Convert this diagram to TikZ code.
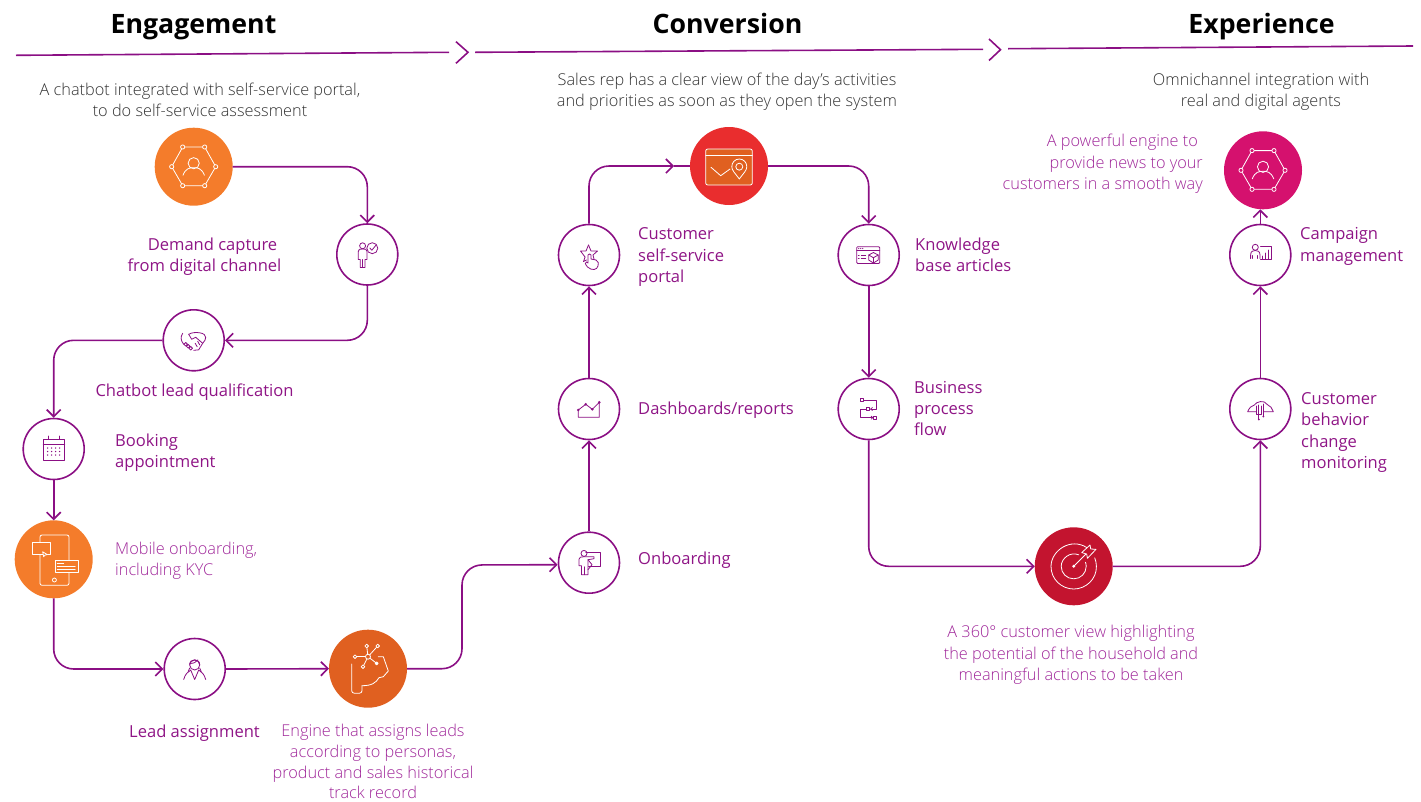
\documentclass[tikz,border=0pt]{standalone}
\usepackage{fontspec}
\setmainfont{Open Sans}
\newfontfamily\lightf{Open Sans Light}
\usetikzlibrary{arrows.meta}
\definecolor{pc}{HTML}{8B0F84}
\definecolor{labc}{HTML}{8F1586}
\definecolor{labl}{HTML}{A0289A}
\definecolor{subc}{HTML}{333333}
\definecolor{og}{HTML}{F47C2B}
\definecolor{ogd}{HTML}{E06020}
\definecolor{redc}{HTML}{E92D2E}
\definecolor{crim}{HTML}{C3142F}
\definecolor{mag}{HTML}{D5116E}
\tikzset{
  ringnode/.style={circle,draw=pc,line width=1.6pt,minimum size=61pt,inner sep=0pt,fill=white},
  discnode/.style={circle,minimum size=78pt,inner sep=0pt,outer sep=0pt},
  conn/.style={draw=pc,line width=1.6pt,rounded corners=20pt,-{Straight Barb[length=7pt,width=14pt,line width=1.6pt]}},
  plain/.style={draw=pc,line width=1.6pt,rounded corners=20pt},
  hline/.style={draw=pc,line width=1.6pt},
  titlelab/.style={font=\bfseries\fontsize{26.7}{32}\selectfont,text=black,inner sep=0pt,anchor=base},
  sublab/.style={font=\lightf\fontsize{16.3}{21.3}\selectfont,text=subc,inner sep=0pt,align=center},
  lab/.style={font=\fontsize{16.55}{21.3}\selectfont,text=labc,inner sep=0pt},
  lablight/.style={font=\lightf\fontsize{16.3}{21.3}\selectfont,text=labl,inner sep=0pt},
  icw/.style={draw=white,line width=.8pt,line cap=round,line join=round},
  icp/.style={draw=pc,line width=.8pt,line cap=round,line join=round},
}
\newcommand{\hexglyph}[1]{%
  \draw (-11,-19.7) -- (11,-19.7) -- (22,0) -- (11,19) -- (-11,19) -- (-22,0) -- cycle;
  \foreach \p in {(-11,-19.7),(11,-19.7),(22,0),(11,19),(-11,19),(-22,0)} \draw[fill=#1] \p circle[radius=2.1];
  \draw (0,-3.5) circle[radius=5.6];
  \draw (-10.7,8.5) .. controls (-8,1.5) and (-4,1) .. (0,1) .. controls (4,1) and (8,1.5) .. (10.7,8.5);
}
\begin{document}
\begin{tikzpicture}[x=1pt,y=-1pt]
\useasboundingbox (0,0) rectangle (1421,801);
% titles
\node[titlelab] (te) at (193.5,33) {Engagement};
\node[titlelab] (tc) at (727.5,33) {Conversion};
\node[titlelab] (tx) at (1261.5,33) {Experience};
% header lines
\coordinate (ha) at (16,55.3); \coordinate (hb) at (449,52.3);
\coordinate (hc) at (475,52.3); \coordinate (hd) at (983,49.3);
\coordinate (he) at (1008,48.7); \coordinate (hf) at (1413,46);
\draw[hline] (ha) -- (hb);
\draw[hline] (hc) -- (hd);
\draw[hline] (he) -- (hf);
\draw[hline] (456,41.7) -- (468,52.3) -- (456,63.3);
\draw[hline] (989,39) -- (1000.5,49.7) -- (989,60.5);
% discs and rings
\node[discnode,fill=og] (n1) at (193.7,166.7) {};
\node[ringnode] (n2) at (367.3,254.5) {};
\node[ringnode] (n3) at (193.7,340.3) {};
\node[ringnode] (n4) at (53.7,449) {};
\node[discnode,fill=og] (n5) at (53.7,559.3) {};
\node[ringnode] (n6) at (194.7,669) {};
\node[discnode,fill=ogd] (n7) at (368,668.7) {};
\node[ringnode] (n8) at (589,562.7) {};
\node[ringnode] (n9) at (589,409) {};
\node[ringnode] (n10) at (589,255) {};
\node[discnode,fill=redc] (n11) at (729,166) {};
\node[ringnode] (n12) at (868.7,255) {};
\node[ringnode] (n13) at (868.7,409) {};
\node[discnode,fill=crim] (n14) at (1073.7,566.3) {};
\node[ringnode] (n15) at (1260.3,409) {};
\node[ringnode] (n16) at (1260.3,255) {};
\node[discnode,fill=mag] (n17) at (1263,170.3) {};
% connectors
\draw[conn] (n1.east) -| (n2.north);
\draw[conn] (n2.south) |- (n3.east);
\draw[conn] (n3.west) -| (n4.north);
\draw[conn] (n4.south) -- (n5.north);
\draw[conn] (n5.south) |- (n6.west);
\draw[conn] (n6.east) -- (n7.west);
\coordinate (b78) at (462,565);
\draw[conn] (n7.east) -- (b78 |- n7.east) -- (b78) -- ([yshift=-2pt]n8.west);
\draw[conn] (n8.north) -- (n9.south);
\draw[conn] (n9.north) -- (n10.south);
\coordinate (c1011) at (674,166);
\draw[conn] (n10.north) |- (c1011);
\draw[plain] (c1011) -- (n11.west);
\draw[conn] (n11.east) -| (n12.north);
\draw[conn] (n12.south) -- (n13.north);
\draw[conn] (n13.south) |- (n14.west);
\draw[conn] (n14.east) -| (n15.south);
\draw[conn] (n15.north) -- (n16.south);
\draw[conn] (n16.north) -- (n16.north |- n17.south);
% icons
\begin{scope}[shift={(n1.center)},icw]\hexglyph{og}\end{scope}
\begin{scope}[shift={(n17.center)},icw]\hexglyph{mag}\end{scope}
% n2 person check
\begin{scope}[shift={(n2.center)},icp]
  \draw (-4.7,-8.7) circle[radius=3];
  \draw (-7,13) -- (-7,5) -- (-9,5) -- (-9,-3) .. controls (-9,-5.5) and (-7.5,-5.5) .. (-4.7,-5.5) .. controls (-2,-5.5) and (-.3,-5.5) .. (-.3,-3) -- (-.3,5) -- (-2.3,5) -- (-2.3,13) -- cycle;
  \draw (-4.7,5) -- (-4.7,13);
  \draw (5,-6.3) circle[radius=5.5];
  \draw (2.5,-6.5) -- (4.5,-4.3) -- (8.7,-9.3);
\end{scope}
% n3 handshake
\begin{scope}[shift={(n3.center)},icp]
  \draw (-11,-7) .. controls (-13.5,-3) and (-13,0) .. (-10,4);
  \draw (-5,-6) .. controls (-2,-8) and (3,-8) .. (6,-7.5) .. controls (10,-7) and (12,-5) .. (12,-3) .. controls (12,-1) and (11,1) .. (9,3) -- (5,9.5) -- (0,10);
  \draw (-5,-6) -- (-2,-1) -- (2,-3) -- (9,3);
  \foreach \p in {(-8,4),(-5.5,6),(-3,8)} \draw \p circle[radius=1.8];
  \draw (4,1) -- (6,4.5); \draw (1.5,3) -- (3.5,6.5);
\end{scope}
% n4 calendar
\begin{scope}[shift={(n4.center)},icp]
  \draw (-10.5,-10) rectangle (11,11);
  \draw (-10.5,-5) -- (11,-5);
  \draw (-5.5,-13) -- (-5.5,-10); \draw (5.5,-13) -- (5.5,-10);
  \foreach \y in {-1,2.5,6} \foreach \x in {-6,-2,2,6} \fill[pc] (\x,\y) circle[radius=.75];
\end{scope}
% n5 mobile
\begin{scope}[shift={(n5.center)},icw]
  \draw[rounded corners=2pt] (-13.7,-24.3) rectangle (15.3,26);
  \draw[fill=og] (-21,-16.7) rectangle (-3.7,-4.7);
  \draw[fill=og] (-11,-7.5) -- (-6.5,-4.8) -- (-9,-4) -- (-10,-2.5) -- cycle;
  \draw[fill=og] (1.3,1) rectangle (24.3,13.3);
  \draw (3.5,4) -- (10,4); \draw (3.5,7) -- (21.5,7); \draw (3.5,10) -- (21.5,10);
  \draw (.7,20.7) circle[radius=2];
\end{scope}
% n6 agent
\begin{scope}[shift={(n6.center)},icp]
  \draw (0,-4) circle[radius=5];
  \draw (-5,-4) .. controls (-5.5,-11) and (5.5,-11) .. (5,-4);
  \draw (-5,-5.5) .. controls (-1,-5.5) and (2,-7) .. (3,-9);
  \draw (-11,10.5) .. controls (-9.5,5) and (-7,3) .. (-4,1) -- (0,10.5) -- (4,1) .. controls (7,3) and (9.5,5) .. (11,10.5);
  \draw (-5,-1) -- (-6.5,2.5); \draw (5,-1) -- (6.5,2.5);
\end{scope}
% n7 head network
\begin{scope}[shift={(n7.center)},icw]
  \draw[rounded corners=2.5pt] (-16.3,-4.7) -- (-16.3,24.5) -- (-6,24.5) -- (-6,17);
  \draw (-6,17) .. controls (4,17) and (8,14) .. (11,9) -- (15.3,8) -- (20.3,2.3) -- (15.3,-12) -- (10.3,-12);
  \draw (0,-12) -- (-1.3,-22.7); \draw (0,-12) -- (9.7,-22.7);
  \draw (0,-12) -- (-13,-12); \draw (0,-12) -- (-5,-2); \draw (0,-12) -- (8.7,-5.3);
  \draw[fill=ogd] (0,-12) circle[radius=2.5];
  \draw[fill=ogd] (-1.3,-22.7) circle[radius=1.8];
  \draw[fill=ogd] (9.7,-22.7) circle[radius=1.8];
  \draw[fill=ogd] (-13,-12) circle[radius=1.8];
  \draw[fill=ogd] (-5,-2) circle[radius=1.8];
  \draw[fill=white] (8.7,-5.3) circle[radius=1.5];
\end{scope}
% n8 presenter
\begin{scope}[shift={(n8.center)},icp]
  \draw (-3.3,-10.3) -- (11,-10.3) -- (11,3.3) -- (-.5,3.3);
  \draw (-5,-9.3) circle[radius=3];
  \draw (-7.5,12) -- (-7.5,3) -- (-10,3) -- (-10,-3.5) .. controls (-10,-5.5) and (-8,-6) .. (-5,-6) -- (5,-6) -- (5,-4) -- (-1,-3) -- (-1,12) -- cycle;
  \draw (-1,-3) -- (3,2) -- (-1,7);
  \draw (-4.3,4) -- (-4.3,12);
\end{scope}
% n9 chart
\begin{scope}[shift={(n9.center)},icp]
  \draw (-10.7,8.3) -- (-10.7,1) -- (-3.3,-4.7) -- (3.3,.3) -- (10.3,-6.7) -- (10.3,8.3) -- cycle;
  \foreach \p in {(-10.7,1),(-3.3,-4.7),(3.3,.3),(10.3,-6.7)} \fill[pc] \p circle[radius=1.4];
\end{scope}
% n10 star hand
\begin{scope}[shift={(n10.center)},icp]
  \draw (-.5,-10) -- (2,-4) -- (8.5,-4) -- (4,0) -- (5,4) ;
  \draw (-4,2) -- (-8.5,-4) -- (-3,-4) -- (-.5,-10);
  \draw (-4,2) -- (-5.5,6.5) -- (-2.5,5);
  \draw (-1.5,12) .. controls (-4,9) and (-4.5,7) .. (-2.5,7) -- (-1,8) -- (-1,0) .. controls (-1,-1.5) and (2,-1.5) .. (2,0) -- (2,4) -- (7,5) .. controls (10,6) and (9.5,9) .. (9,11) .. controls (8,15) and (3,16) .. (-1.5,12);
\end{scope}
% n11 email pin
\begin{scope}[shift={(n11.center)},icw]
  \draw[fill=ogd,rounded corners=2pt] (-23.3,-17) rectangle (23.3,19);
  \draw (-23.3,-11) -- (23.3,-11);
  \draw (-18,1.3) -- (-8.3,9.7) -- (1,3);
  \draw[fill=ogd] (10.3,13) .. controls (6,7) and (2.8,4.5) .. (2.8,.7) .. controls (2.8,-3.5) and (6,-7) .. (10.3,-7) .. controls (14.6,-7) and (17.8,-3.5) .. (17.8,.7) .. controls (17.8,4.5) and (14.6,7) .. (10.3,13) -- cycle;
  \draw (10.3,.7) circle[radius=3.5];
\end{scope}
% n12 kb
\begin{scope}[shift={(n12.center)},icp]
  \draw[rounded corners=1pt] (-12,-8.3) rectangle (11,8.5);
  \draw (-12,-4.7) -- (11,-4.7);
  \foreach \x in {-10,-8,-6} \fill[pc] (\x,-6.5) circle[radius=.6];
  \draw (-10.5,0) -- (-9.5,0); \draw (-10.5,3) -- (-9.5,3); \draw (-7.5,0) -- (-3,0); \draw (-7.5,3) -- (-3,3);
  \draw[fill=white] (4.7,-2.5) -- (9.5,0) -- (9.5,5) -- (4.7,8) -- (0,5) -- (0,0) -- cycle;
  \draw (0,0) -- (4.7,2.7) -- (9.5,0); \draw (4.7,2.7) -- (4.7,8);
\end{scope}
% n13 process
\begin{scope}[shift={(n13.center)},icp]
  \draw (-8.3,-10.5) rectangle (-5.3,-7.5);
  \draw (-5.3,-9) -- (8,-9) -- (8,0) -- (2,0);
  \draw (3.7,-1.5) -- (2,0) -- (3.7,1.5);
  \draw (-2,-1.5) rectangle (1,1.5);
  \draw (-2,0) -- (-8.3,0) -- (-8.3,8.7) -- (4,8.7);
  \draw (2.5,7.2) -- (4,8.7) -- (2.5,10.2);
  \draw (5,7.2) rectangle (8,10.2);
\end{scope}
% n14 target
\begin{scope}[shift={(n14.center)},icw]
  \draw (13,-18.8) .. controls (-3,-29) and (-22.5,-16) .. (-22.7,0) .. controls (-22.8,13) and (-12,22.7) .. (0,22.7) .. controls (12,22.7) and (23,13) .. (22.7,0) .. controls (22.7,-3) and (22,-6) .. (21,-8.5);
  \draw (5,-11.5) .. controls (-3.5,-15) and (-12.5,-8) .. (-12.5,0) .. controls (-12.5,7) and (-7,12.5) .. (0,12.5) .. controls (7,12.5) and (12.5,7) .. (12.5,0) .. controls (12.5,-1.5) and (12.2,-3) .. (11.8,-4);
  \fill[white] (0,0) circle[radius=1.6];
  \draw (0,0) -- (12,-12);
  \draw (8,-13.7) -- (16.3,-21.3) -- (17,-17.3) -- (22.3,-17) -- (13.7,-8) -- (13,-12.3) -- cycle;
\end{scope}
% n15 cloud
\begin{scope}[shift={(n15.center)},icp]
  \draw (-4,2.7) -- (-12.7,2.7) .. controls (-11,-1) and (-9,-3.5) .. (-6,-4) .. controls (-4,-7.5) and (4,-9.5) .. (7,-4.5) .. controls (10,-3.5) and (12,-.5) .. (13,2.7) -- (4,2.7);
  \draw (-4,-3) -- (-4,5) -- (1,5) -- (1,-3);
  \draw (-1.5,-4) -- (-1.5,10); \fill[pc] (-1.5,10.5) circle[radius=1];
  \draw (3,-5) -- (3,7); \fill[pc] (3,7.5) circle[radius=1];
\end{scope}
% n16 campaign
\begin{scope}[shift={(n16.center)},icp]
  \draw (-5,-7.7) circle[radius=3];
  \draw (-9.7,3.5) -- (-9.7,0) .. controls (-9.7,-4) and (-7,-4.5) .. (-5,-4.5) .. controls (-3,-4.5) and (-.3,-4) .. (-.3,0) -- (-.3,3.5);
  \draw (-7.5,3.5) -- (-7.5,.5); \draw (-2.5,3.5) -- (-2.5,.5);
  \draw (.3,-8.3) -- (11.3,-8.3) -- (11.3,4) -- (.3,4);
  \draw (2.5,4) -- (2.5,1); \draw (5.5,4) -- (5.5,-2); \draw (8.5,4) -- (8.5,-5);
\end{scope}
% texts
\node[sublab] (s1) at (200,99.5) {A chatbot integrated with self-service portal,\\to do self-service assessment};
\node[sublab] (s2) at (727,91.5) {Sales rep has a clear view of the day’s activities\\and priorities as soon as they open the system};
\node[sublab] (s3) at (1261,91.5) {Omnichannel integration with\\real and digital agents};
\node[lab,align=center] (l1) at (204.5,256.5) {\hspace*{16pt}Demand capture\\from digital channel};
\node[lab] (l2) at (194.5,392) {Chatbot lead qualification};
\node[lab,align=left,anchor=west] (l3) at (115,452.5) {Booking\\appointment};
\node[lablight,align=left,anchor=west] (l4) at (115,560.5) {Mobile onboarding,\\including KYC};
\node[lab] (l5) at (194.5,733) {Lead assignment};
\node[lablight,align=center,font=\lightf\fontsize{16.3}{20.9}\selectfont] (l6) at (373,761.5) {Engine that assigns leads\\according to personas,\\product and sales historical\\track record};
\node[lab,anchor=west] (l7) at (638,560) {Onboarding};
\node[lab,anchor=west] (l8) at (638,410) {Dashboards/reports};
\node[lab,align=left,anchor=west] (l9) at (638,257) {Customer\\self-service\\portal};
\node[lab,align=left,anchor=west] (l10) at (915,254.5) {Knowledge\\base articles};
\node[lab,align=left,anchor=west] (l11) at (914,408.5) {Business\\process\\flow};
\node[lablight,align=center] (l12) at (1071,655) {A 360° customer view highlighting\\the potential of the household and\\meaningful actions to be taken};
\node[lablight,align=right,anchor=east] (l13) at (1203,164) {A powerful engine to\hspace*{5pt}\\provide news to your\\customers in a smooth way};
\node[lab,align=left,anchor=west] (l14) at (1300,246.5) {Campaign\\management};
\node[lab,align=left,anchor=west] (l15) at (1301,432.5) {Customer\\behavior\\change\\monitoring};
\end{tikzpicture}
\end{document}
